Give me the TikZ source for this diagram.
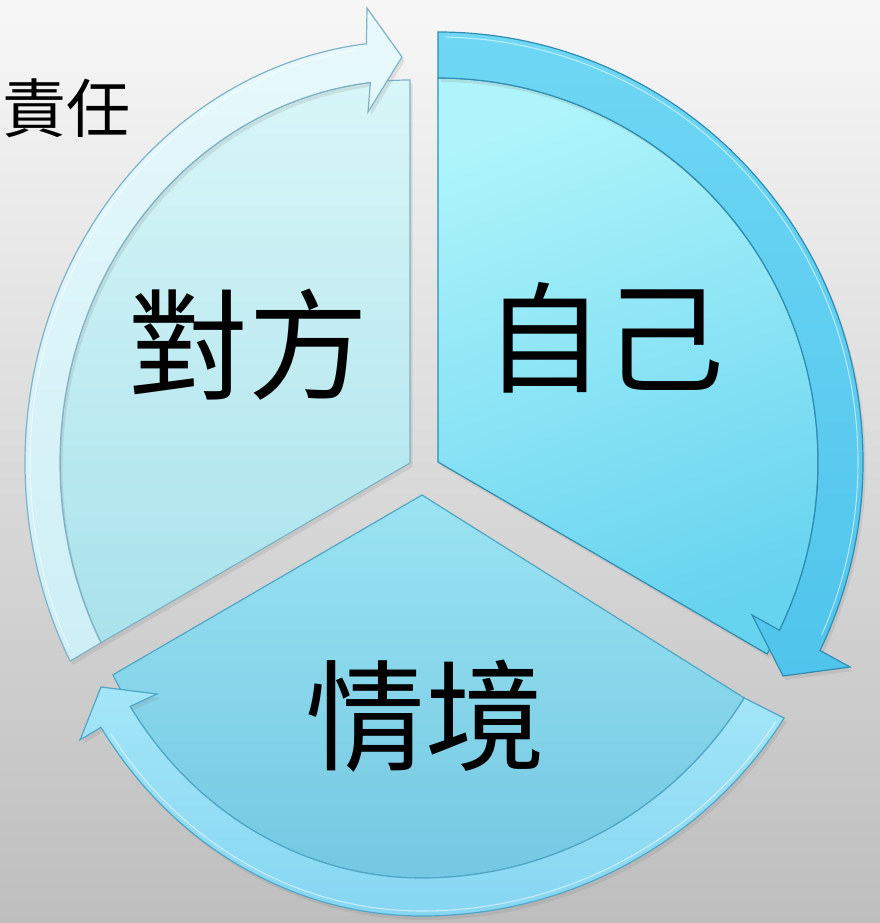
\documentclass[tikz,border=0pt]{standalone}
\usepackage{fontspec}
\newfontfamily\cjk{Noto Sans CJK TC}
\usetikzlibrary{calc,shadows}
\definecolor{bgtop}{HTML}{F7F7F7}
\definecolor{bgbot}{HTML}{BEBEBE}
\definecolor{tlbA}{HTML}{D8F6F8}
\definecolor{tlbB}{HTML}{A9E2EB}
\definecolor{tlbandA}{HTML}{E8F9FC}
\definecolor{tlbandB}{HTML}{CDEFF6}
\definecolor{tlline}{HTML}{7FB2C4}
\definecolor{trbA}{HTML}{AEF4FA}
\definecolor{trbB}{HTML}{66D3EF}
\definecolor{trbandA}{HTML}{6ED7F4}
\definecolor{trbandB}{HTML}{50C4EC}
\definecolor{trline}{HTML}{2F8DB2}
\definecolor{bbA}{HTML}{9AE3F2}
\definecolor{bbB}{HTML}{74C8E2}
\definecolor{bbandA}{HTML}{A4E6F8}
\definecolor{bbandB}{HTML}{86D6F2}
\definecolor{bline}{HTML}{4FA6C6}
\begin{document}
\begin{tikzpicture}[x=0.75pt,y=-0.75pt,
  shadowed/.style={drop shadow={opacity=0.18, shadow xshift=2pt, shadow yshift=-3pt}},
  tlbody/.style={shadowed, top color=tlbA, bottom color=tlbB, draw=tlline, line width=0.9pt},
  tlarrow/.style={shadowed, top color=tlbandA, bottom color=tlbandB, draw=tlline, line width=0.9pt},
  trbody/.style={shadowed, top color=trbA, bottom color=trbB, shading angle=20, draw=trline, line width=0.9pt},
  trarrow/.style={shadowed, top color=trbandA, bottom color=trbandB, draw=trline, line width=0.9pt},
  bbody/.style={shadowed, top color=bbA, bottom color=bbB, draw=bline, line width=0.9pt},
  barrow/.style={shadowed, top color=bbandA, bottom color=bbandB, draw=bline, line width=0.9pt},
  bevel/.style={draw=white, draw opacity=0.55, line width=0.8pt},
  lbl/.style={font=\cjk\fontsize{90}{90}\selectfont, inner sep=0pt, text=black},
  side/.style={font=\cjk\fontsize{48}{48}\selectfont, inner sep=0pt, text=black, anchor=east}]
\useasboundingbox (0,0) rectangle (880,923);
\shade[top color=bgtop, bottom color=bgbot] (0,0) rectangle (880,923);

% apexes of the three segments
\coordinate (A1) at (438,462);
\coordinate (A2) at (410,463);
\coordinate (A3) at (422,495);

% arrowhead points
\coordinate (tlBo) at (367,8);
\coordinate (tlT) at (402,57);
\coordinate (tlBi) at (368,112);
\coordinate (trBo) at (850,667);
\coordinate (trT) at (783,676);
\coordinate (trBi) at (752,615);
\coordinate (bBo) at (80,740);
\coordinate (bT) at (101,687);
\coordinate (bBi) at (157,694);

% top-left segment
\shadedraw[tlbody] (A2) -- ($(A2)+(270:350 and 383)$)
  arc[start angle=270, end angle=152, x radius=350, y radius=383] -- cycle;
\shadedraw[tlarrow] ($(A2)+(152:385 and 422)$)
  arc[start angle=152, end angle=263.5, x radius=385, y radius=422]
  -- (tlBo) -- (tlT) -- (tlBi) -- ($(A2)+(263.5:350 and 383)$)
  arc[start angle=263.5, end angle=152, x radius=350, y radius=383] -- cycle;
\path[bevel] ($(A2)+(154:380 and 417)$)
  arc[start angle=154, end angle=262, x radius=380, y radius=417];

% top-right segment
\shadedraw[trbody] (A1) -- ($(A1)+(270:380 and 384)$)
  arc[start angle=270, end angle=390, x radius=380, y radius=384] -- cycle;
\shadedraw[trarrow] ($(A1)+(270:425 and 430)$)
  arc[start angle=270, end angle=386, x radius=425, y radius=430]
  -- (trBo) -- (trT) -- (trBi) -- ($(A1)+(26:380 and 384)$)
  arc[start angle=386, end angle=270, x radius=380, y radius=384] -- cycle;
\path[bevel] ($(A1)+(271:420 and 425)$)
  arc[start angle=271, end angle=384, x radius=420, y radius=425];

% bottom segment
\shadedraw[bbody] (A3) -- ($(A3)+(32:380 and 383)$)
  arc[start angle=32, end angle=90, x radius=380, y radius=383]
  arc[start angle=90, end angle=152, x radius=350, y radius=383] -- cycle;
\shadedraw[barrow] ($(A3)+(32:427 and 421)$)
  arc[start angle=32, end angle=90, x radius=427, y radius=421]
  arc[start angle=90, end angle=146.5, x radius=385, y radius=421]
  -- (bBo) -- (bT) -- (bBi) -- ($(A3)+(146.5:350 and 383)$)
  arc[start angle=146.5, end angle=90, x radius=350, y radius=383]
  arc[start angle=90, end angle=32, x radius=380, y radius=383] -- cycle;
\path[bevel] ($(A3)+(33:422 and 416)$)
  arc[start angle=33, end angle=90, x radius=422, y radius=416]
  arc[start angle=90, end angle=145, x radius=380, y radius=416];

% labels
\node[lbl] (t1) at (248,345) {對方};
\node[lbl] (t2) at (604,338) {自己};
\node[lbl] (t3) at (425,716) {情境};
\node[side] (t4) at (131,108) {責任};
\end{tikzpicture}
\end{document}
